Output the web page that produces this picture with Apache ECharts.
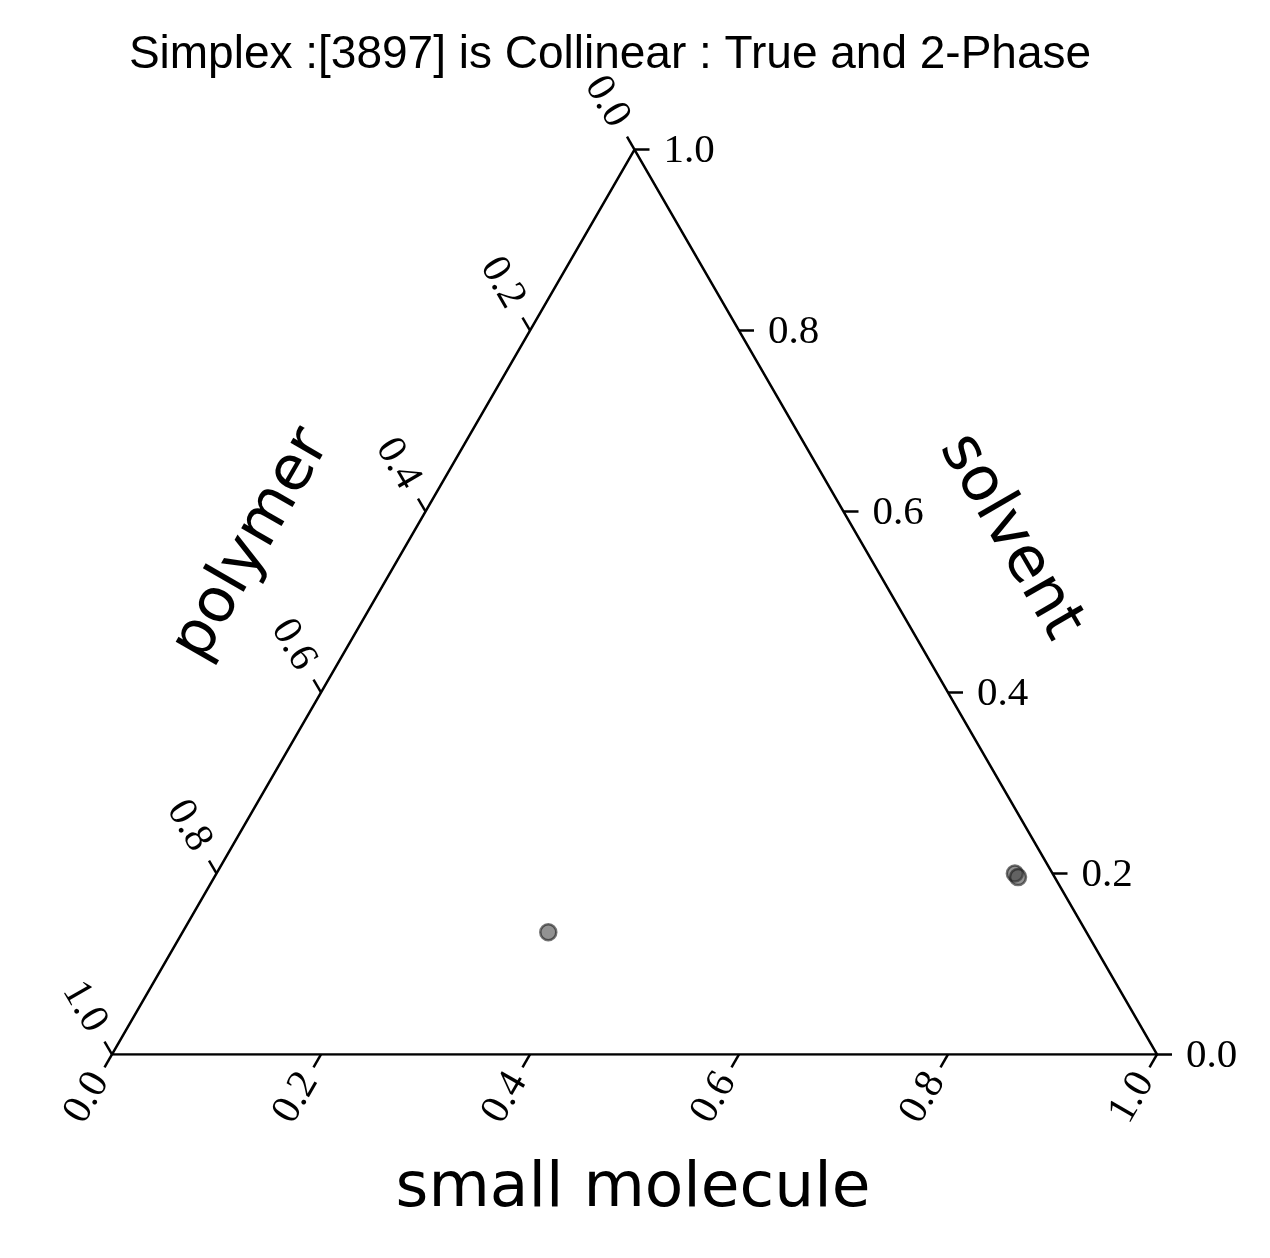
<!DOCTYPE html>
<html><head><meta charset="utf-8">
<script src="https://cdn.jsdelivr.net/npm/echarts@6/dist/echarts.min.js"></script>
<style>html,body{margin:0;padding:0;background:#fff}#c{width:1270px;height:1258px}</style>
</head><body><div id="c"></div>
<script>
const titleText = 'Simplex :[3897] is Collinear : True and 2-Phase';
const axisNames = ['small molecule', 'solvent', 'polymer'];
const tickValues = [0, 0.2, 0.4, 0.6, 0.8, 1.0];
const tickLabels = ['0.0', '0.2', '0.4', '0.6', '0.8', '1.0'];
const smallMolecule = [0.764, 0.769, 0.350];
const solvent = [0.200, 0.196, 0.135];
const polymer = [0.036, 0.035, 0.515];

const S3 = Math.sqrt(3) / 2;
function toXY(sm, sv) { return [sm + sv / 2, sv * S3]; }
const vertices = [toXY(0, 0), toXY(1, 0), toXY(0, 1), toXY(0, 0)];
const points = smallMolecule.map((s, i) => toXY(s, solvent[i]));

// tick items: [x, y, side, labelIndex]
const tickData = [];
tickValues.forEach((v, i) => { const p = toXY(v, 0); tickData.push([p[0], p[1], 0, i]); });
tickValues.forEach((v, i) => { const p = toXY(1 - v, v); tickData.push([p[0], p[1], 1, i]); });
tickValues.forEach((v, i) => { const p = toXY(0, 1 - v); tickData.push([p[0], p[1], 2, i]); });

const chart = echarts.init(document.getElementById('c'), null, { renderer: 'canvas' });
const tickFont = '"Liberation Serif", "DejaVu Serif", serif';
const sansFont = '"Liberation Sans", "DejaVu Sans", sans-serif';
const nameFont = '"DejaVu Sans", "Liberation Sans", sans-serif';

chart.setOption({
  animation: false,
  backgroundColor: '#fff',
  title: {
    text: titleText, left: 610, top: 27, textAlign: 'center',
    textStyle: { fontFamily: sansFont, fontSize: 46, fontWeight: 'normal', color: '#000' }
  },
  grid: { left: 112, top: 149.5, width: 1045, height: 1045 * S3, containLabel: false },
  xAxis: { type: 'value', min: 0, max: 1, show: false },
  yAxis: { type: 'value', min: 0, max: S3, show: false },
  series: [
    {
      type: 'line', data: vertices, showSymbol: false, silent: true,
      lineStyle: { color: '#000', width: 2.5 }
    },
    {
      type: 'custom', data: tickData, silent: true,
      renderItem(params, api) {
        const p = api.coord([api.value(0), api.value(1)]);
        const side = api.value(2), li = api.value(3);
        const dir = side === 0 ? [-0.5, S3] : side === 1 ? [1, 0] : [-0.5, -S3];
        const L = 15;
        const children = [{
          type: 'line',
          shape: { x1: p[0], y1: p[1], x2: p[0] + dir[0] * L, y2: p[1] + dir[1] * L },
          style: { stroke: '#000', lineWidth: 2.5 }
        }];
        if (side === 1) {
          children.push({ type: 'text', x: p[0] + 29, y: p[1] + 2,
            style: { text: tickLabels[li], fontFamily: tickFont, fontSize: 41, fill: '#000', align: 'left', verticalAlign: 'middle' } });
        } else {
          const d = side === 0 ? 50 : 55;
          children.push({ type: 'text', x: p[0] + dir[0] * d, y: p[1] + dir[1] * d,
            rotation: side === 0 ? Math.PI / 3 : -Math.PI / 3,
            style: { text: tickLabels[li], fontFamily: tickFont, fontSize: 41, fill: '#000', align: 'center', verticalAlign: 'middle' } });
        }
        return { type: 'group', children };
      }
    },
    {
      type: 'scatter', data: points, symbolSize: 16, silent: true,
      itemStyle: { color: 'rgba(60,60,60,0.7)', borderColor: 'rgba(25,25,25,0.75)', borderWidth: 2.5 }
    }
  ],
  graphic: [
    { type: 'text', x: 633, y: 1190, style: { text: axisNames[0], fontFamily: nameFont, fontSize: 63, fill: '#000', align: 'center', verticalAlign: 'middle' } },
    { type: 'text', x: 1010, y: 537, rotation: -Math.PI / 3, style: { text: axisNames[1], fontFamily: nameFont, fontSize: 62, fill: '#000', align: 'center', verticalAlign: 'middle' } },
    { type: 'text', x: 252, y: 545, rotation: Math.PI / 3, style: { text: axisNames[2], fontFamily: nameFont, fontSize: 62, fill: '#000', align: 'center', verticalAlign: 'middle' } }
  ]
});
chart.setOption({ title: { left: 605 } });
</script></body></html>
